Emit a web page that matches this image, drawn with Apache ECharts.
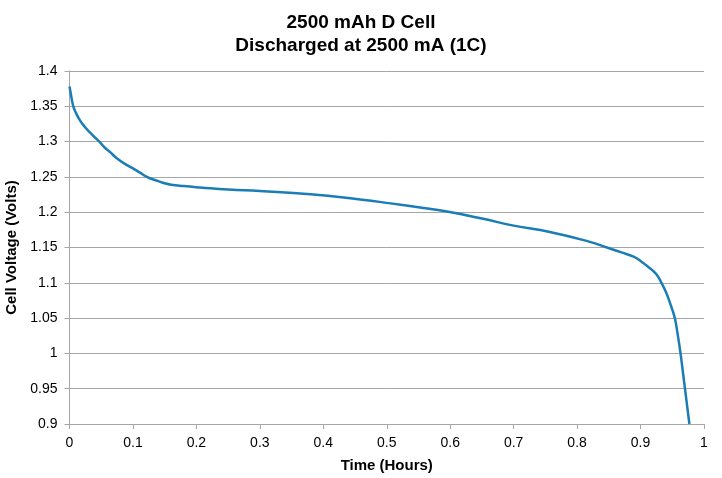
<!DOCTYPE html>
<html><head><meta charset="utf-8">
<script src="https://cdn.jsdelivr.net/npm/echarts@6/dist/echarts.min.js"></script>
<style>html,body{margin:0;padding:0;background:#fff}#c{width:722px;height:478px}</style>
</head><body><div id="c"></div>
<script>
const timeHours = [0,0.002,0.004,0.006,0.01,0.0165,0.024,0.032,0.04,0.047,0.055,0.064,0.075,0.09,0.1,0.111,0.122,0.13,0.14,0.15,0.16,0.18,0.206,0.25,0.30,0.38,0.458,0.506,0.55,0.595,0.65,0.70,0.757,0.82,0.847,0.87,0.889,0.9,0.91,0.917,0.925,0.933,0.94,0.945,0.95,0.954,0.958,0.963,0.970,0.977];
const cellVolts = [1.378,1.368,1.358,1.350,1.341,1.330,1.321,1.313,1.306,1.300,1.292,1.285,1.276,1.267,1.262,1.256,1.250,1.247,1.244,1.241,1.239,1.237,1.235,1.232,1.230,1.2255,1.218,1.2125,1.207,1.201,1.191,1.181,1.172,1.158,1.150,1.143,1.137,1.131,1.124,1.119,1.112,1.100,1.087,1.075,1.062,1.050,1.030,1.000,0.950,0.900];
const titleLines = ['2500 mAh D Cell','Discharged at 2500 mA (1C)'];
const xName = 'Time (Hours)';
const yName = 'Cell Voltage (Volts)';

const chart = echarts.init(document.getElementById('c'), null, {renderer:'canvas'});
const font = 'Liberation Sans, Arial, sans-serif';
chart.setOption({
  animation:false,
  title:{text:titleLines.join('\n'), left:'center', top:6,
    textStyle:{fontFamily:font, fontWeight:'bold', fontSize:19, color:'#000', lineHeight:23}},
  grid:{left:69.5, right:18, top:71, bottom:54, containLabel:false, outerBoundsMode:'none'},
  xAxis:{type:'value', min:0, max:1, interval:0.1, name:xName, nameLocation:'middle', nameGap:34,
    nameTextStyle:{fontFamily:font, fontWeight:'bold', fontSize:15, color:'#000'},
    axisLine:{show:true, lineStyle:{color:'#a6a6a6', width:1}},
    axisTick:{show:true, length:5, lineStyle:{color:'#a6a6a6'}},
    axisLabel:{fontFamily:font, fontSize:14, color:'#000', margin:12},
    splitLine:{show:false}},
  yAxis:{type:'value', min:0.9, max:1.4, interval:0.05, name:yName, nameLocation:'middle', nameGap:45,
    nameTextStyle:{fontFamily:font, fontWeight:'bold', fontSize:15, color:'#000'},
    axisLine:{show:true, lineStyle:{color:'#a6a6a6', width:1}},
    axisTick:{show:true, length:5, lineStyle:{color:'#a6a6a6'}},
    axisLabel:{fontFamily:font, fontSize:14, color:'#000', margin:12,
      formatter:v=>String(Math.round(v*100)/100)},
    splitLine:{show:true, lineStyle:{color:'#a6a6a6', width:1}}},
  series:[{type:'line', data:timeHours.map((t,i)=>[t,cellVolts[i]]), showSymbol:false, smooth:0.5,
    lineStyle:{color:'#1b7db6', width:2.5}, itemStyle:{color:'#1b7db6'}}]
});
</script></body></html>
